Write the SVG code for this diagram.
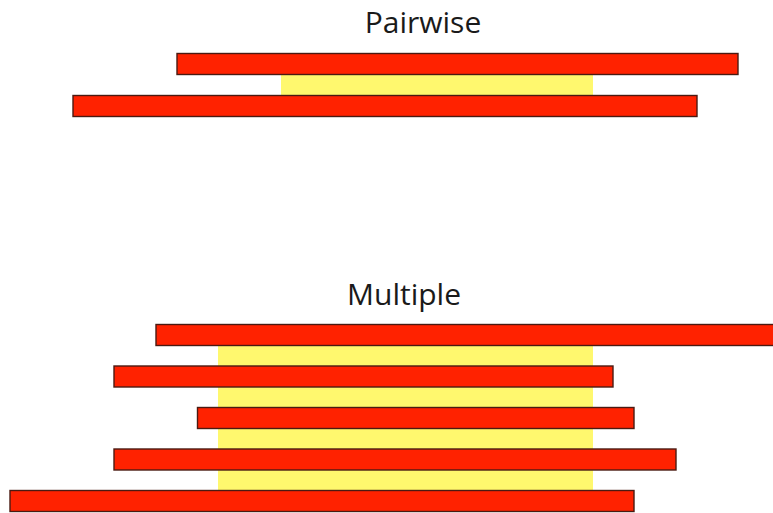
<svg xmlns="http://www.w3.org/2000/svg" width="773" height="513" viewBox="0 0 773 513">
<style>
.bar{fill:#ff2200;stroke:#4a1a12;stroke-width:1.4}
.hl{fill:#fff86e}
.t{font-family:"Open Sans","Liberation Sans",sans-serif;font-size:30px;fill:#1a1a1a;text-anchor:middle}
</style>
<rect width="773" height="513" fill="#ffffff"/>
<g id="pairwise">
<text class="t" x="423" y="33">Pairwise</text>
<rect class="hl" x="281" y="74" width="312" height="22"/>
<rect class="bar" x="177" y="53.5" width="561" height="21"/>
<rect class="bar" x="73" y="95.5" width="624" height="21"/>
</g>
<g id="multiple">
<text class="t" x="404" y="305">Multiple</text>
<rect class="hl" x="218" y="345" width="375" height="146"/>
<rect class="bar" x="156" y="324.5" width="620" height="21"/>
<rect class="bar" x="114" y="366" width="499" height="21"/>
<rect class="bar" x="197.5" y="407.5" width="436.5" height="21"/>
<rect class="bar" x="114" y="449" width="562" height="21"/>
<rect class="bar" x="10" y="490.5" width="624" height="21"/>
</g>
<g id="connectors"/>
</svg>
